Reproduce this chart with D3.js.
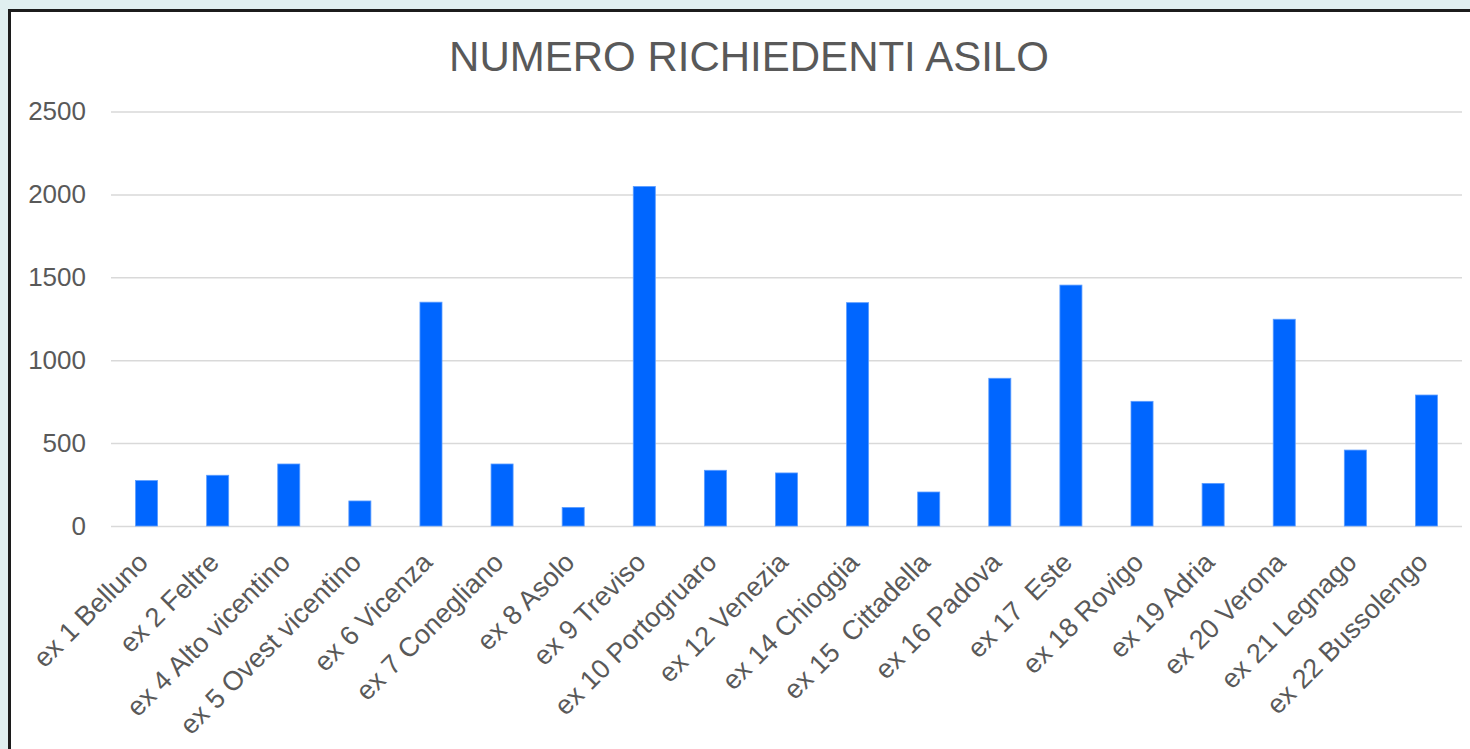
<!DOCTYPE html>
<html>
<head>
<meta charset="utf-8">
<script src="https://cdn.jsdelivr.net/npm/d3@7"></script>
<style>
  body { margin: 0; background: #e0eff0; }
  svg { display: block; font-family: "Liberation Sans", Arial, sans-serif; }
  text { white-space: pre; }
</style>
</head>
<body>
<div id="chart"></div>
<script>
// Chart data
const categories = [
  "ex 1 Belluno", "ex 2 Feltre", "ex 4 Alto vicentino", "ex 5 Ovest vicentino",
  "ex 6 Vicenza", "ex 7 Conegliano", "ex 8 Asolo", "ex 9 Treviso",
  "ex 10 Portogruaro", "ex 12 Venezia", "ex 14 Chioggia", "ex 15  Cittadella",
  "ex 16 Padova", "ex 17  Este", "ex 18 Rovigo", "ex 19 Adria",
  "ex 20 Verona", "ex 21 Legnago", "ex 22 Bussolengo"
];
const richiedenti = [
  274, 306, 374, 151, 1350, 374, 112, 2048, 336, 320,
  1347, 205, 891, 1453, 752, 257, 1247, 458, 790
];
const yTicks = [0, 500, 1000, 1500, 2000, 2500];
const title = "NUMERO RICHIEDENTI ASILO";

const width = 1470;
const height = 749;
const plot = { left: 111, right: 1462, top: 111.5, bottom: 526 };

const svg = d3.select("#chart")
  .append("svg")
  .attr("width", width)
  .attr("height", height);

// Chart frame (runs off the right and bottom edges)
svg.append("rect")
  .attr("x", 9.5)
  .attr("y", 10.5)
  .attr("width", 1600)
  .attr("height", 900)
  .attr("fill", "white")
  .attr("stroke", "#1c1c1c")
  .attr("stroke-width", 3);

// Title
svg.append("text")
  .attr("x", 749)
  .attr("y", 71)
  .attr("text-anchor", "middle")
  .attr("fill", "#595959")
  .style("font-size", "42px")
  .text(title);

const x = d3.scaleBand()
  .domain(categories)
  .range([plot.left, plot.right])
  .paddingInner(0.69)
  .paddingOuter(0.345);

const y = d3.scaleLinear()
  .domain([0, 2500])
  .range([plot.bottom, plot.top]);

// Gridlines + y labels
const yAxis = svg.append("g")
  .attr("transform", `translate(${plot.left},0)`)
  .call(
    d3.axisLeft(y)
      .tickValues(yTicks)
      .tickFormat(d3.format("d"))
      .tickSize(-(plot.right - plot.left))
      .tickPadding(25)
  );

yAxis.select(".domain").remove();
yAxis.selectAll(".tick line")
  .attr("stroke", "#d9d9d9")
  .attr("stroke-width", 1.5);
yAxis.selectAll(".tick text")
  .attr("fill", "#595959")
  .style("font-size", "26px")
  .style("font-family", "'Liberation Sans', Arial, sans-serif");

// Bars
svg.append("g")
  .selectAll("rect")
  .data(categories)
  .join("rect")
  .attr("x", (d) => x(d))
  .attr("y", (d, i) => y(richiedenti[i]))
  .attr("width", x.bandwidth())
  .attr("height", (d, i) => y(0) - y(richiedenti[i]))
  .attr("fill", "#0066ff")
  .attr("stroke", "#5c9dff")
  .attr("stroke-width", 0.8);

// Rotated category labels
svg.append("g")
  .selectAll("text")
  .data(categories)
  .join("text")
  .attr("transform", (d) => `translate(${x(d) + x.bandwidth() / 2 + 3},${plot.bottom + 38}) rotate(-45)`)
  .attr("text-anchor", "end")
  .attr("fill", "#595959")
  .style("font-size", "27px")
  .text((d) => d);
</script>
</body>
</html>
